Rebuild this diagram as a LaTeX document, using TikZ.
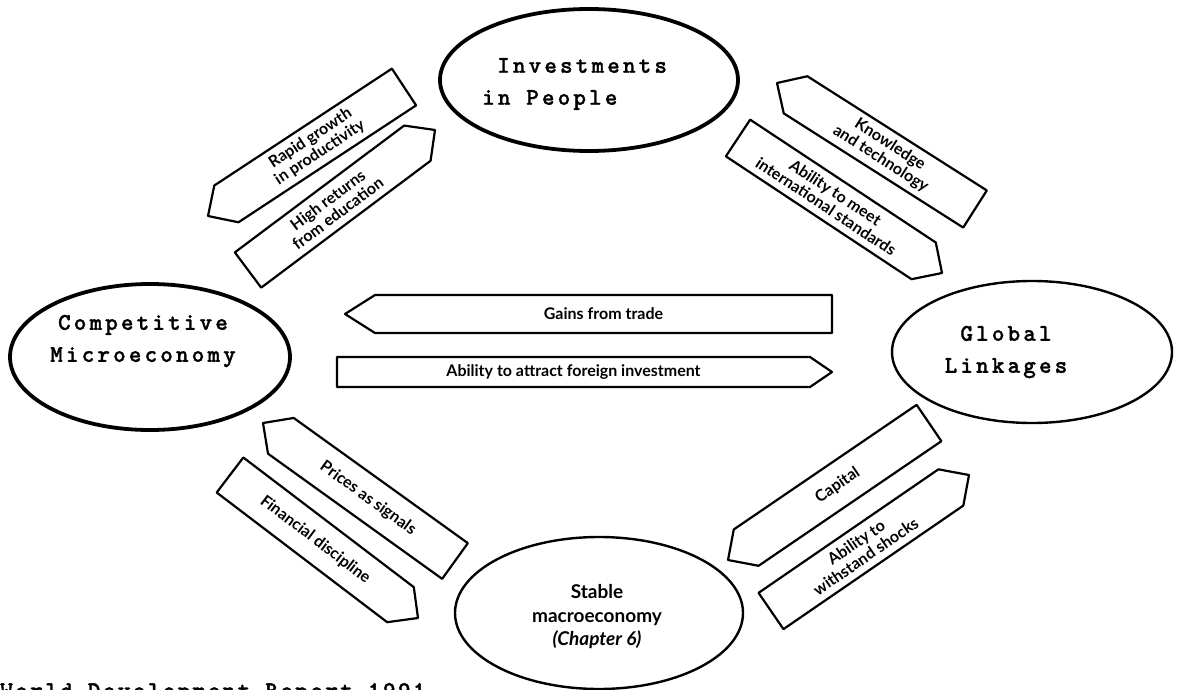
\documentclass[tikz,border=0pt]{standalone}
\usepackage{fontspec}
\usetikzlibrary{calc,shapes.geometric}
\newfontfamily\signfont{Lato}
\newfontfamily\twfont{lmmonolt10-bold}[Extension=.otf,LetterSpace=13,FakeBold=1.2]
\newfontfamily\twbfont{lmmonolt10-bold}[Extension=.otf,LetterSpace=10,FakeBold=1.5]
\tikzset{
  ellthick/.style={ellipse, draw, line width=3.8pt, inner sep=0pt},
  ellthin/.style={ellipse, draw, line width=2.4pt, inner sep=0pt},
  twlabel/.style={font=\twfont\fontsize{24}{32}\selectfont, align=center, inner sep=0pt},
  signtext/.style={font=\signfont\bfseries\fontsize{16}{17}\selectfont, align=center, inner sep=0pt},
  signline/.style={draw, line width=2.2pt, line join=round, fill=white},
  ellsans/.style={font=\signfont\bfseries\fontsize{19}{23.5}\selectfont, align=center, inner sep=0pt}
}
% name, tip, end centre, half width, tip-to-shoulder, text rotation, text
\newcommand\signpost[7]{%
  \coordinate (#1-t) at (#2);
  \coordinate (#1-e) at (#3);
  \coordinate (#1-s) at ($(#1-t)!#5!(#1-e)$);
  \draw[signline] (#1-t) -- ($(#1-s)!#4!90:(#1-e)$) -- ($(#1-e)!#4!-90:(#1-t)$)
     -- ($(#1-e)!#4!90:(#1-t)$) -- ($(#1-s)!#4!-90:(#1-e)$) -- cycle;
  \node[signtext, rotate=#6] (#1) at ($(#1-s)!0.5!(#1-e)$) {#7};
}
\begin{document}
\begin{tikzpicture}[x=1pt,y=-1pt]
\clip (0,0) rectangle (1185,690);
\fill[white] (0,0) rectangle (1185,690);

% ellipses
\node[ellthick, minimum width=298pt, minimum height=142pt] (ip) at (589,80) {};
\node[twlabel, align=left, anchor=west] (iptxt) at (497,84) {Investments\\\hspace*{-15pt}in People};

\node[ellthick, minimum width=280pt, minimum height=146pt] (cm) at (150,357) {};
\node[twlabel] (cmtxt) at (143,341) {Competitive\\Microeconomy};

\node[ellthin, minimum width=280pt, minimum height=142pt] (gl) at (1032,352) {};
\node[twlabel] (gltxt) at (1006,352) {Global\\Linkages};

\node[ellthin, minimum width=288pt, minimum height=152pt] (sm) at (599,613) {};
\node[ellsans] (smtxt) at (597,617) {Stable\\macroeconomy\\{\itshape(Chapter 6)}};

% signposts
\signpost{rapid}{208,216}{404,87}{22pt}{22pt}{33.4}{Rapid growth\\in productivity}
\signpost{returns}{435,130}{248,270}{22pt}{22pt}{36.8}{High returns\\from education}
\signpost{know}{777,83}{975,209}{22pt}{22pt}{-32.5}{Knowledge\\and technology}
\signpost{meet}{942,273}{738,138}{22pt}{22pt}{-33.5}{Ability to meet\\international standards}
\signpost{prices}{263,423}{455,561}{22pt}{22pt}{-35.7}{Prices as signals}
\signpost{fin}{418,618}{230,475}{22pt}{22pt}{-37.3}{Financial discipline}
\signpost{capital}{728,560}{929,423}{22pt}{22pt}{34.3}{Capital}
\signpost{shocks}{969,475}{771,611}{22pt}{22pt}{34.5}{Ability to\\withstand shocks}

\signpost{gains}{345,314}{832,314}{19pt}{30pt}{0}{Gains from trade}
\signpost{attract}{832,372}{337,372}{15pt}{22pt}{0}{Ability to attract foreign investment}

% caption cut by the page edge
\node[anchor=base west, font=\twbfont\fontsize{24}{26}\selectfont, inner sep=0pt] (wdr) at (0,698) {World Development Report 1991};
\end{tikzpicture}
\end{document}
